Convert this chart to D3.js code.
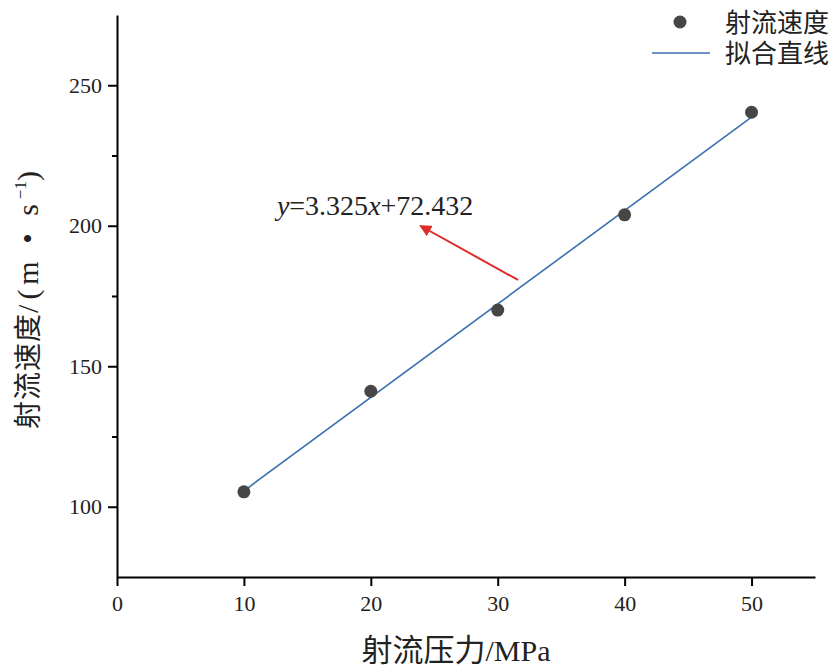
<!DOCTYPE html>
<html>
<head>
<meta charset="utf-8">
<script src="https://cdn.jsdelivr.net/npm/d3@7"></script>
<style>
  body { margin: 0; background: #fff; }
  svg { display: block; }
</style>
</head>
<body>
<script>
// data
var pressure = [10, 20, 30, 40, 50]
var speed = [105.3, 141.1, 170.0, 203.9, 240.4]
var fitSlope = 3.325
var fitIntercept = 72.432
var xTicks = [0, 10, 20, 30, 40, 50]
var yTicks = [100, 150, 200, 250]
var yMinor = [125, 175, 225]
var legendNames = ["射流速度", "拟合直线"]
var arrowFrom = [31.6, 180.7]
var arrowTo = [23.9, 200]
var eqPos = [12.6, 203.9]

var width = 837, height = 671
var margins = {left: 117, top: 15, right: 22, bottom: 94}

var svg = d3.select("body").append("svg")
  .attr("width", width)
  .attr("height", height)

var scaleX = d3.scaleLinear().domain([0, 55]).range([margins.left, width - margins.right])
var scaleY = d3.scaleLinear().domain([75, 275]).range([height - margins.bottom, margins.top])

var serif = "'Liberation Serif', 'Times New Roman', serif"
var cjk = "'Noto Sans CJK SC', 'Noto Sans', sans-serif"

// axes
var axisX = svg.append("g")
  .attr("transform", "translate(0," + (height - margins.bottom) + ")")
  .call(d3.axisBottom(scaleX).tickValues(xTicks).tickSize(9).tickSizeOuter(0).tickPadding(9))
axisX.selectAll("text").attr("font-family", serif).attr("font-size", 22).attr("fill", "#222")

var axisY = svg.append("g")
  .attr("transform", "translate(" + margins.left + ",0)")
  .call(d3.axisLeft(scaleY).tickValues(yTicks).tickSize(9).tickSizeOuter(0).tickPadding(6))
axisY.selectAll("text").attr("font-family", serif).attr("font-size", 22).attr("fill", "#222")

svg.append("g")
  .attr("transform", "translate(" + margins.left + ",0)")
  .call(d3.axisLeft(scaleY).tickValues(yMinor).tickSize(5).tickSizeOuter(0).tickFormat(""))
  .select(".domain").remove()

svg.selectAll(".domain").attr("stroke", "#000").attr("stroke-width", 2)
svg.selectAll(".tick line").attr("stroke", "#000").attr("stroke-width", 2)

// axis titles
var xTitle = svg.append("text")
  .attr("x", 456).attr("y", 661)
  .attr("text-anchor", "middle")
  .attr("fill", "#222")
xTitle.append("tspan").attr("font-family", cjk).attr("font-size", 31).text("射流压力")
xTitle.append("tspan").attr("font-family", serif).attr("font-size", 30).text("/MPa")

var yTitle = svg.append("text")
  .attr("transform", "translate(38,300) rotate(-90)")
  .attr("text-anchor", "middle")
  .attr("font-size", 28).attr("fill", "#222")
yTitle.append("tspan").attr("font-family", cjk).attr("letter-spacing", 1).text("射流速度")
yTitle.append("tspan").attr("font-family", serif).attr("letter-spacing", 5).attr("font-size", 30).text("/(m • s")
yTitle.append("tspan").attr("font-family", serif).attr("font-size", 17).attr("dy", -12).text("−1")
yTitle.append("tspan").attr("font-family", serif).attr("font-size", 30).attr("dy", 12).text(")")

// fit line
var lineColor = "#3b6fb0"
svg.append("line")
  .attr("x1", scaleX(pressure[0]))
  .attr("y1", scaleY(fitSlope * pressure[0] + fitIntercept))
  .attr("x2", scaleX(pressure[pressure.length - 1]))
  .attr("y2", scaleY(fitSlope * pressure[pressure.length - 1] + fitIntercept))
  .attr("stroke", lineColor)
  .attr("stroke-width", 1.6)

// points
svg.selectAll("circle.pt")
  .data(pressure)
  .enter()
  .append("circle")
  .attr("class", "pt")
  .attr("cx", function(d){ return scaleX(d) })
  .attr("cy", function(d, i){ return scaleY(speed[i]) })
  .attr("r", 6.5)
  .attr("fill", "#464646")

// equation + arrow
var eq = svg.append("text")
  .attr("x", scaleX(eqPos[0])).attr("y", scaleY(eqPos[1]))
  .attr("font-family", serif).attr("font-size", 28).attr("fill", "#222")
eq.append("tspan").attr("font-style", "italic").text("y")
eq.append("tspan").text("=3.325")
eq.append("tspan").attr("font-style", "italic").text("x")
eq.append("tspan").text("+72.432")

svg.append("defs").append("marker")
  .attr("id", "head")
  .attr("viewBox", "0 0 10 10")
  .attr("refX", 9).attr("refY", 5)
  .attr("markerWidth", 6).attr("markerHeight", 6)
  .attr("markerUnits", "strokeWidth")
  .attr("orient", "auto")
  .append("path")
  .attr("d", "M0,0 L10,5 L0,10 z")
  .attr("fill", "#e02b2b")

svg.append("line")
  .attr("x1", scaleX(arrowFrom[0])).attr("y1", scaleY(arrowFrom[1]))
  .attr("x2", scaleX(arrowTo[0])).attr("y2", scaleY(arrowTo[1]))
  .attr("stroke", "#e02b2b")
  .attr("stroke-width", 2)
  .attr("marker-end", "url(#head)")

// legend
var legend = svg.append("g")
legend.append("circle").attr("cx", 680).attr("cy", 22).attr("r", 6.5).attr("fill", "#464646")
legend.append("line").attr("x1", 652).attr("x2", 710).attr("y1", 53).attr("y2", 53)
  .attr("stroke", lineColor).attr("stroke-width", 1.6)
legend.selectAll("text")
  .data(legendNames)
  .enter()
  .append("text")
  .attr("x", 725)
  .attr("y", function(d, i){ return 32 + i * 31 })
  .attr("font-family", cjk).attr("font-size", 26).attr("fill", "#222")
  .text(function(d){ return d })
</script>
</body>
</html>
